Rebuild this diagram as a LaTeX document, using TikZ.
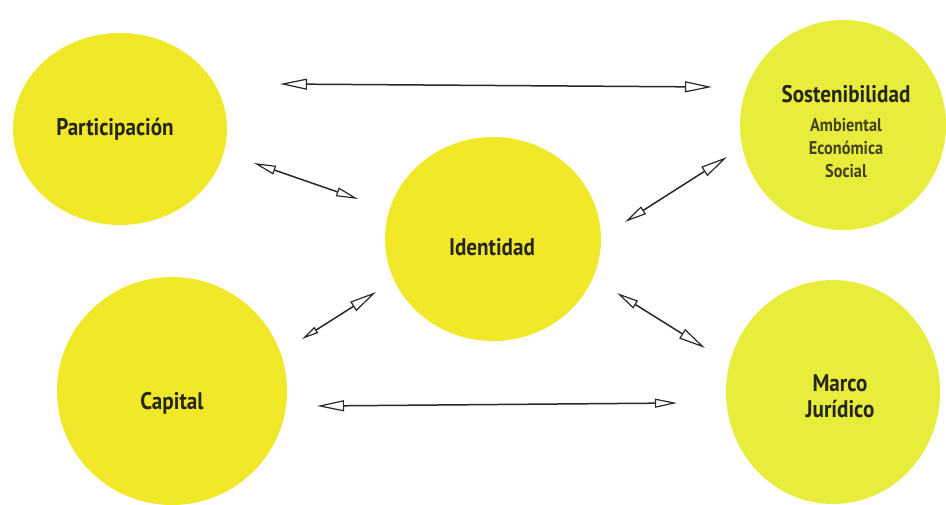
\documentclass[tikz,border=0pt]{standalone}
\usepackage{fontspec}
\setmainfont{PT Sans}[FakeStretch=0.88]
\usetikzlibrary{arrows.meta,shapes.geometric}
\definecolor{blob}{RGB}{240,232,40}
\definecolor{blobg}{RGB}{232,236,58}
\definecolor{ink}{RGB}{38,38,30}
\definecolor{arrowc}{RGB}{40,40,40}
\tikzset{
  blobnode/.style={ellipse, fill=blob, draw=none, inner sep=0pt},
  lbl/.style={text=ink, font=\bfseries\fontsize{24}{26}\selectfont, align=center, inner sep=0pt},
  sublbl/.style={text=ink!85!blob, font=\bfseries\fontsize{18.5}{23}\selectfont, align=center, inner sep=0pt},
  bighead/.tip={Triangle[open,length=27pt,width=11pt,fill=white,line width=1.2pt]},
  midhead/.tip={Triangle[open,length=22pt,width=9pt,fill=white,line width=1.2pt]},
  smallhead/.tip={Triangle[open,length=17pt,width=7pt,fill=white,line width=1.2pt]},
  rel/.style={draw=arrowc, line width=1.5pt}
}
\begin{document}
\begin{tikzpicture}[x=1pt,y=-1pt]
\useasboundingbox (0,0) rectangle (946,504);
\fill[white] (0,0) rectangle (946,504);
\begin{scope}
\clip (0,0) rectangle (946,504);
\node[blobnode, minimum width=214pt, minimum height=192pt] (part) at (120,129) {};
\node[blobnode, fill=blobg, minimum width=206pt, minimum height=210pt] (sost) at (843,125) {};
\node[blobnode, minimum width=216pt, minimum height=204pt] (iden) at (493,239) {};
\node[blobnode, minimum width=230pt, minimum height=228pt] (capi) at (172,391) {};
\node[blobnode, fill=blobg, minimum width=214pt, minimum height=224pt] (marc) at (833,392) {};
\end{scope}
\node[lbl] (tpart) at (115,129) {Participación};
\node[lbl] (tsost) at (846,94) {Sostenibilidad};
\node[sublbl] (tsub) at (846,148) {Ambiental\\Económica\\Social};
\node[lbl] (tiden) at (492,247) {Identidad};
\node[lbl] (tcapi) at (172,403) {Capital};
\node[lbl] (tmarc) at (840,396) {Marco\\Jurídico};
% connector end points
\coordinate (a1) at (280,84);  \coordinate (a2) at (712,87);
\coordinate (b1) at (254,163); \coordinate (b2) at (358,199);
\coordinate (c1) at (727,157); \coordinate (c2) at (625,222);
\coordinate (d1) at (302,339); \coordinate (d2) at (376,292);
\coordinate (e1) at (617,293); \coordinate (e2) at (705,348);
\coordinate (f1) at (317,406); \coordinate (f2) at (677,403);
\draw[rel, {bighead}-{bighead}] (a1) -- (a2);
\draw[rel, {midhead}-{midhead}] (b1) -- (b2);
\draw[rel, {bighead}-{midhead}] (c1) -- (c2);
\draw[rel, {smallhead}-{bighead}] (d1) -- (d2);
\draw[rel, {midhead}-{bighead}] (e1) -- (e2);
\draw[rel, {bighead}-{midhead}] (f1) -- (f2);
\end{tikzpicture}
\end{document}
